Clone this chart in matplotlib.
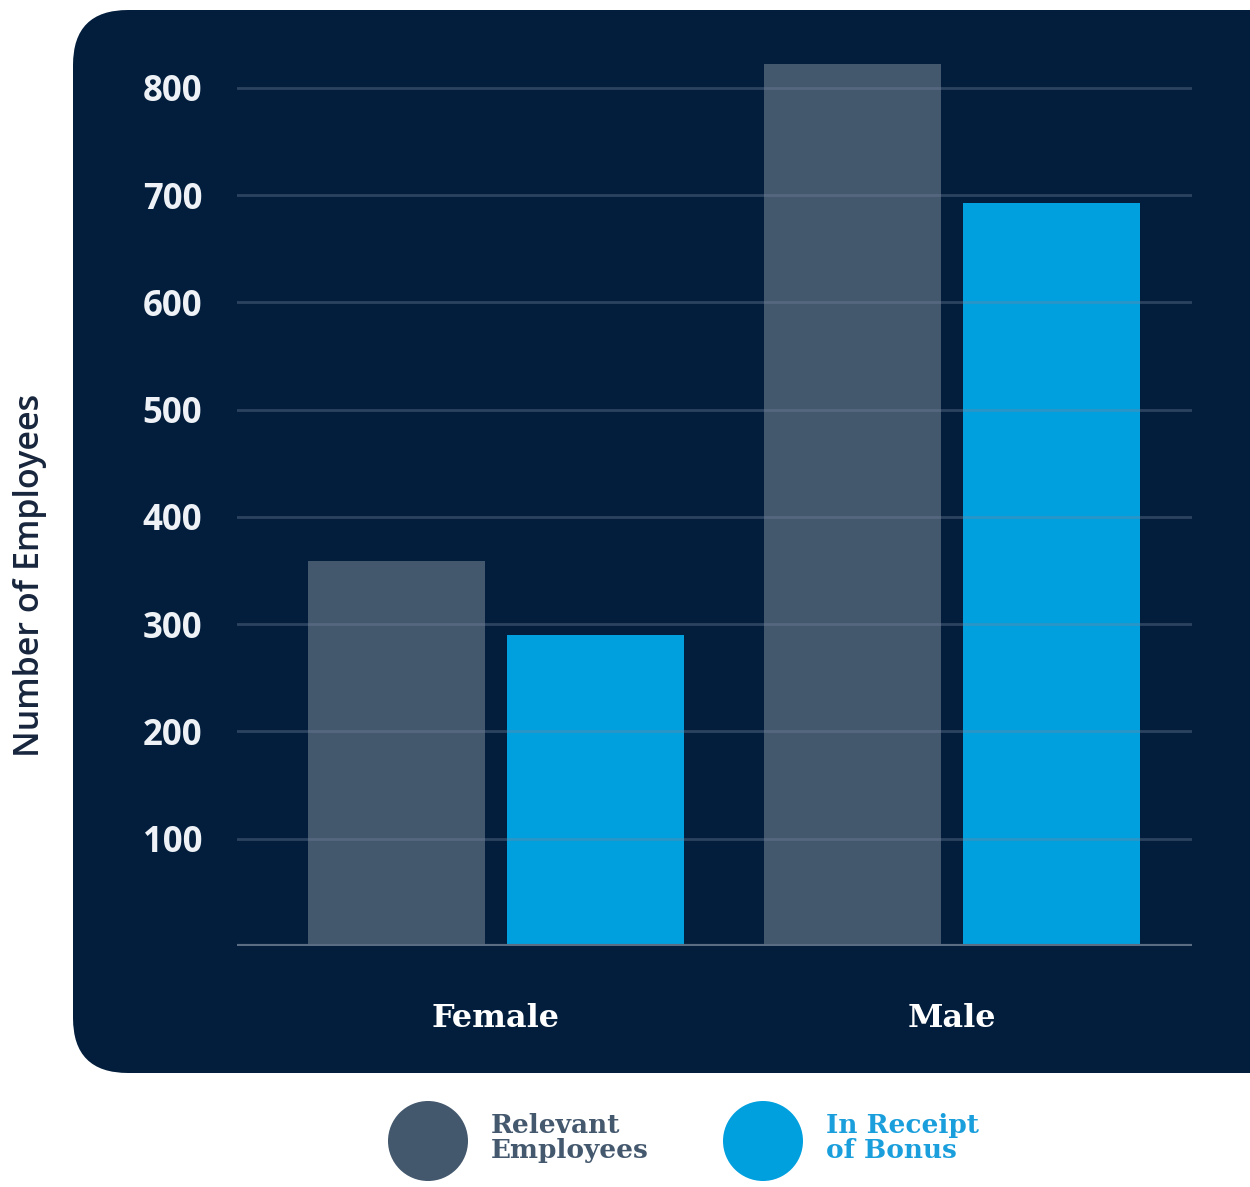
import numpy as np
import matplotlib
matplotlib.use("Agg")
import matplotlib.pyplot as plt
from matplotlib.patches import FancyBboxPatch, Circle

# data
groups = ["Female", "Male"]
relevant = [359, 822]
bonus = [290, 693]
yticks = [100, 200, 300, 400, 500, 600, 700, 800]
legend_labels = ["Relevant\nEmployees", "In Receipt\nof Bonus"]

navy = "#021e3c"
grey = "#43576d"
blue = "#00a0df"

W, H = 1250, 1187
fig = plt.figure(figsize=(W / 100, H / 100), dpi=100)
fig.patch.set_facecolor("white")

# background layer in pixel units
bg = fig.add_axes([0, 0, 1, 1])
bg.set_xlim(0, W)
bg.set_ylim(H, 0)
bg.axis("off")
panel = FancyBboxPatch((73, 10), 1240, 1063,
                       boxstyle="round,pad=0,rounding_size=55",
                       facecolor=navy, edgecolor="none")
bg.add_patch(panel)

# legend
for cx, col, lab, tcol in [(428, grey, legend_labels[0], "#44586e"),
                           (763, blue, legend_labels[1], "#1a9fdc")]:
    bg.add_patch(Circle((cx, 1141), 40, facecolor=col, edgecolor="none"))
    bg.text(cx + 63, 1138, lab, color=tcol, fontsize=19, family="DejaVu Serif",
            fontweight="bold", va="center", ha="left", linespacing=1.0)

# main axes
ax = fig.add_axes([237 / W, (H - 946) / H, 955 / W, 901 / H])
ax.set_facecolor("none")
x = np.arange(len(groups))
w = 0.388
off = 0.218
ax.bar(x - off, relevant, w, color=grey, zorder=2)
ax.bar(x + off, bonus, w, color=blue, zorder=2)

ax.set_xlim(-0.5674, 1.526)
ax.set_ylim(0, 840)
ax.set_yticks(yticks)
ax.set_yticklabels([str(t) for t in yticks], color="#eef2f6", fontsize=25,
                   family="Open Sans", fontweight="bold")
for t in yticks:
    ax.axhline(t, color="#74849d", alpha=0.37, lw=2, zorder=3)
ax.axhline(0, color="#5a6d83", lw=3, zorder=3)

ax.set_xticks(x)
ax.set_xticklabels(groups, color="white", fontsize=23, family="DejaVu Serif",
                   fontweight="bold")
ax.tick_params(axis="y", length=0, pad=25)
ax.tick_params(axis="x", length=0, pad=41)
for s in ax.spines.values():
    s.set_visible(False)

fig.text(30 / W, 1 - 575 / H, "Number of Employees", rotation=90,
         color="#18263d", fontsize=24.5, family="Open Sans", fontweight="semibold",
         va="center", ha="center")

fig.savefig("out.png", dpi=100)
